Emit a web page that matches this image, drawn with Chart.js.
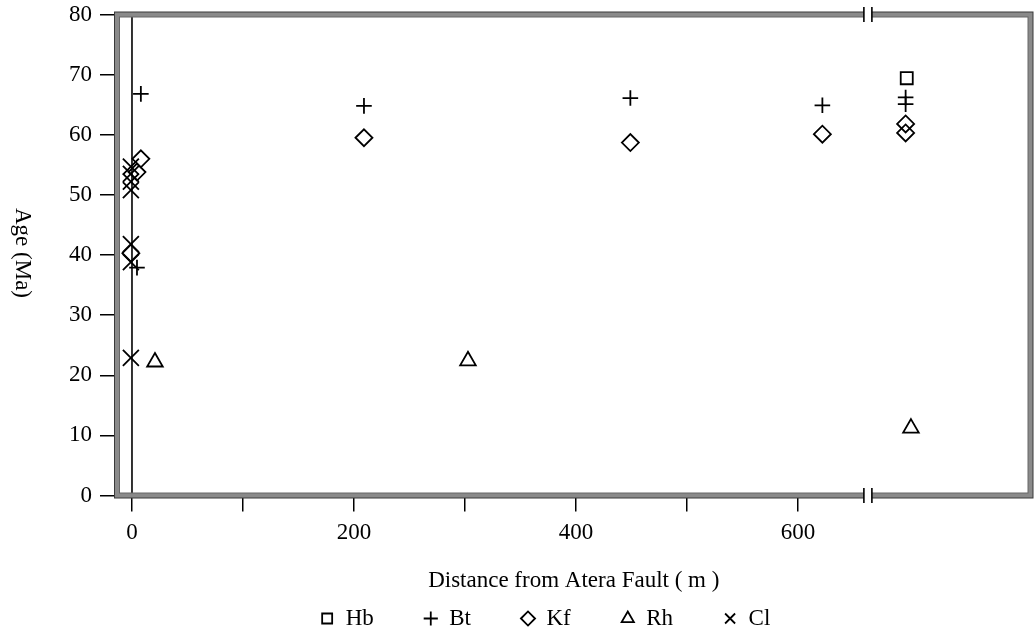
<!DOCTYPE html>
<html>
<head>
<meta charset="utf-8">
<script src="https://cdn.jsdelivr.net/npm/chart.js@4/dist/chart.umd.min.js"></script>
<style>
html,body{margin:0;padding:0;background:#fff;}
canvas{display:block;}
</style>
</head>
<body>
<canvas id="c" width="1035" height="638"></canvas>
<script>
// ---- data ----
const seriesNames = ['Hb', 'Bt', 'Kf', 'Rh', 'Cl'];

const hbDist = [698];
const hbAge  = [69.4];

const btDist = [8, 4.5, 209, 449, 622, 697, 697];
const btAge  = [66.8, 37.9, 64.8, 66.1, 64.9, 66.2, 65.1];

const kfDist = [8, 4.5, -1, 209, 449, 622, 697, 697];
const kfAge  = [56.0, 53.8, 40.3, 59.5, 58.7, 60.1, 61.8, 60.3];

const rhDist = [20.7, 302.7, 701.8];
const rhAge  = [22.2, 22.4, 11.2];

const clDist = [-1, -1, -1, -1, -1, -1, -1];
const clAge  = [54.7, 53.5, 52.2, 50.8, 41.8, 38.8, 22.9];

const faultDist = [0, 0];
const faultAge  = [0, 80];

const yTickValues = [0, 10, 20, 30, 40, 50, 60, 70, 80];
const xTickValues = [0, 100, 200, 300, 400, 500, 600];
const xTickLabels = ['0', '', '200', '', '400', '', '600'];

const xMin = -13.5, xMax = 809.5, yMin = 0, yMax = 80;
const xBreak = 663;

const xTitleText = 'Distance from Atera Fault ( m )';
const yTitleText = 'Age (Ma)';

// ---- styling ----
const FONT = "'Liberation Serif','Times New Roman',serif";
Chart.defaults.font.family = FONT;
Chart.defaults.font.size = 23;
Chart.defaults.color = '#000';

const markerStyle = {
  Hb: {pointStyle: 'rect', radius: 8.5},
  Bt: {pointStyle: 'cross', radius: 7.8},
  Kf: {pointStyle: 'rectRot', radius: 8.5},
  Rh: {pointStyle: 'triangle', radius: 9},
  Cl: {pointStyle: 'crossRot', radius: 11.3}
};

const toPts = (xs, ys) => xs.map((x, i) => ({x: x, y: ys[i]}));
const seriesData = {
  Hb: toPts(hbDist, hbAge),
  Bt: toPts(btDist, btAge),
  Kf: toPts(kfDist, kfAge),
  Rh: toPts(rhDist, rhAge),
  Cl: toPts(clDist, clAge)
};

const datasets = seriesNames.map(name => ({
  type: 'scatter',
  label: name,
  data: seriesData[name],
  pointStyle: markerStyle[name].pointStyle,
  pointRadius: markerStyle[name].radius,
  pointHoverRadius: markerStyle[name].radius,
  borderColor: '#000',
  backgroundColor: 'rgba(0,0,0,0)',
  borderWidth: 1.8
}));
datasets.push({
  type: 'line',
  label: 'Atera Fault',
  data: toPts(faultDist, faultAge),
  borderColor: '#000',
  borderWidth: 1.6,
  pointRadius: 0,
  fill: false
});

// ---- plugins ----
const framePlugin = {
  id: 'frame',
  afterDatasetsDraw(chart) {
    const {ctx, chartArea: {left, right, top, bottom}} = chart;
    const bx = chart.scales.x.getPixelForValue(xBreak);
    ctx.save();
    ctx.strokeStyle = '#8a8a8a';
    ctx.lineWidth = 5;
    ctx.strokeRect(left, top, right - left, bottom - top);
    ctx.lineWidth = 1;
    ctx.strokeStyle = '#3a3a3a';
    ctx.strokeRect(left - 2.5, top - 2.5, right - left + 5, bottom - top + 5);
    ctx.strokeStyle = '#666';
    ctx.strokeRect(left + 2.5, top + 2.5, right - left - 5, bottom - top - 5);
    [top, bottom].forEach(yy => {
      ctx.fillStyle = '#fff';
      ctx.fillRect(bx - 4, yy - 3.6, 8, 7.2);
      ctx.strokeStyle = '#000';
      ctx.lineWidth = 1.6;
      ctx.beginPath();
      ctx.moveTo(bx - 4, yy - 7.5); ctx.lineTo(bx - 4, yy + 7.5);
      ctx.moveTo(bx + 4, yy - 7.5); ctx.lineTo(bx + 4, yy + 7.5);
      ctx.stroke();
    });
    ctx.restore();
  }
};

const yTitlePlugin = {
  id: 'yTitle',
  afterDraw(chart) {
    const {ctx, chartArea} = chart;
    ctx.save();
    ctx.translate(22, (chartArea.top + chartArea.bottom) / 2 - 2);
    ctx.rotate(Math.PI / 2);
    ctx.font = '23px ' + FONT;
    ctx.textAlign = 'center';
    ctx.textBaseline = 'middle';
    ctx.fillStyle = '#000';
    ctx.fillText(yTitleText, 0, 0);
    ctx.restore();
  }
};

const legendShiftPlugin = {
  id: 'legendShift',
  afterLayout(chart) {
    const lg = chart.legend;
    if (lg) { lg.left += 30; lg.right += 30; lg.top += 2; lg.bottom += 2; }
  }
};

new Chart(document.getElementById('c'), {
  data: {datasets: datasets},
  options: {
    responsive: false,
    animation: false,
    events: [],
    layout: {autoPadding: false, padding: {top: 14.5, right: 4.5, left: 0, bottom: 0}},
    scales: {
      x: {
        type: 'linear',
        min: xMin,
        max: xMax,
        afterBuildTicks: s => { s.ticks = xTickValues.map(v => ({value: v})); },
        afterFit: s => { s.height = 59.5; s.paddingLeft = 0; s.paddingRight = 0; },
        ticks: {
          autoSkip: false,
          maxRotation: 0,
          padding: 8,
          font: {size: 23, lineHeight: 1.2},
          callback: v => { const i = xTickValues.indexOf(v); return i >= 0 ? xTickLabels[i] : ''; }
        },
        grid: {drawOnChartArea: false, drawTicks: true, tickLength: 16, color: '#000', lineWidth: 1.5},
        border: {display: false},
        title: {display: true, text: xTitleText, font: {size: 23, lineHeight: 1.2}, padding: {top: 0, bottom: -40}}
      },
      y: {
        type: 'linear',
        min: yMin,
        max: yMax,
        afterBuildTicks: s => { s.ticks = yTickValues.map(v => ({value: v})); },
        afterFit: s => { s.width = 117; s.paddingTop = 0; s.paddingBottom = 0; },
        ticks: {padding: 8, font: {size: 23, lineHeight: 1.2}, callback: v => String(v)},
        grid: {drawOnChartArea: false, drawTicks: true, tickLength: 17, color: '#000', lineWidth: 1.5},
        border: {display: false},
        title: {display: false, text: yTitleText}
      }
    },
    plugins: {
      legend: {
        position: 'bottom',
        labels: {
          usePointStyle: true,
          boxWidth: 14,
          boxHeight: 10,
          padding: 50,
          color: '#000',
          font: {size: 23, lineHeight: 1},
          filter: item => seriesNames.includes(item.text)
        }
      },
      tooltip: {enabled: false}
    }
  },
  plugins: [framePlugin, yTitlePlugin, legendShiftPlugin]
});
</script>
</body>
</html>
